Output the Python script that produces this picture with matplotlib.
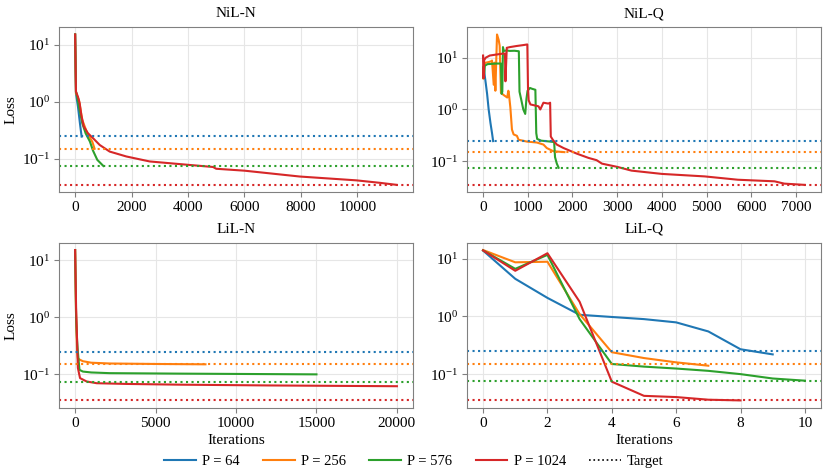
import matplotlib
matplotlib.use("Agg")
import matplotlib.pyplot as plt
from matplotlib.lines import Line2D

plt.rcParams['font.family'] = ['Liberation Serif', 'DejaVu Serif']
plt.rcParams['mathtext.fontset'] = 'stix'
plt.rcParams['font.size'] = 10.5

labels = ["P = 64", "P = 256", "P = 576", "P = 1024"]
colors = ["#1f77b4", "#ff7f0e", "#2ca02c", "#d62728"]
targets = [0.25, 0.15, 0.075, 0.035]

# NiL-N
nil_n_x = [
    [0, 30, 100, 170, 230],
    [0, 30, 60, 135, 253, 430, 607, 690],
    [0, 30, 50, 135, 253, 371, 525, 631, 785, 1000],
    [0, 30, 100, 162, 220, 303, 456, 634, 870, 1224, 1814, 2640, 3944,
     4885, 5000, 6006, 7960, 9966, 10800, 11400],
]
nil_n_y = [
    [15, 1.4, 0.82, 0.42, 0.245],
    [15, 1.4, 1.3, 1.07, 0.48, 0.28, 0.2, 0.15],
    [15, 1.5, 1.4, 0.82, 0.42, 0.28, 0.2, 0.14, 0.096, 0.075],
    [15, 1.5, 1.22, 0.93, 0.58, 0.37, 0.28, 0.23, 0.175, 0.134, 0.11, 0.09,
     0.079, 0.072, 0.067, 0.062, 0.049, 0.042, 0.038, 0.035],
]

# NiL-Q
nil_q_x = [
    [0, 15, 30, 60, 90, 125, 165, 200, 225],
    [0, 20, 60, 120, 180, 200, 238, 255, 275, 312, 349, 371, 400, 430, 460,
     500, 540, 565, 575, 590, 610, 646, 683, 757, 794, 980, 1203, 1351,
     1425, 1574, 1820],
    [0, 15, 40, 100, 200, 300, 400, 415, 430, 445, 460, 480, 520, 600, 700,
     800, 815, 850, 900, 943, 970, 995, 1050, 1100, 1170, 1190, 1210, 1300,
     1400, 1500, 1590, 1610, 1650, 1690],
    [0, 10, 25, 60, 150, 300, 450, 490, 500, 530, 600, 750, 900, 990, 1005,
     1020, 1060, 1150, 1240, 1280, 1350, 1460, 1500, 1515, 1560, 1650, 1800,
     2100, 2360, 2540, 2660, 3000, 3320, 4000, 4960, 5700, 6520, 6740, 7200],
]
nil_q_y = [
    [10.5, 8, 5, 3.2, 2.0, 1.0, 0.55, 0.35, 0.245],
    [4, 7.5, 8.0, 8.2, 8.5, 8.8, 3.0, 8.0, 2.3, 28, 22, 17, 2.1, 2.0, 1.9,
     1.8, 1.7, 2.3, 2.1, 1.6, 1.1, 0.41, 0.33, 0.31, 0.26, 0.24, 0.23, 0.21,
     0.18, 0.156, 0.15],
    [6.5, 4.0, 7.0, 7.5, 7.6, 7.7, 7.7, 2.0, 2.2, 16, 14, 13.5, 13.8, 13.5,
     13.6, 13.3, 2.2, 1.6, 1.0, 0.82, 1.6, 2.3, 2.6, 2.5, 2.4, 0.35, 0.27,
     0.25, 0.245, 0.24, 0.235, 0.12, 0.09, 0.075],
    [11, 4, 9, 10, 11, 11.5, 12, 12, 3.5, 15.5, 16, 16.8, 17.5, 18, 2.6, 1.5,
     1.25, 1.2, 1.15, 1.0, 1.35, 1.3, 1.35, 0.3, 0.26, 0.21, 0.18, 0.14,
     0.116, 0.105, 0.09, 0.078, 0.066, 0.057, 0.051, 0.044, 0.041, 0.037,
     0.035],
]

# LiL-N (no P = 64 run)
lil_n_x = [
    [],
    [0, 60, 120, 170, 300, 480, 1000, 2140, 5000, 8100],
    [0, 60, 120, 170, 270, 480, 1000, 2140, 6500, 15000],
    [0, 60, 120, 170, 305, 720, 1340, 3200, 6530, 12000, 20000],
]
lil_n_y = [
    [],
    [15, 1.0, 0.25, 0.19, 0.18, 0.17, 0.16, 0.155, 0.152, 0.15],
    [15, 1.0, 0.4, 0.25, 0.12, 0.112, 0.108, 0.105, 0.103, 0.1],
    [15, 1.5, 0.4, 0.13, 0.086, 0.075, 0.07, 0.068, 0.066, 0.064, 0.062],
]

# LiL-Q
lil_q_y = [
    [13.9, 4.5, 2.1, 1.07, 0.98, 0.9, 0.79, 0.55, 0.27, 0.22],
    [14.2, 8.7, 8.9, 1.1, 0.24, 0.19, 0.16, 0.14],
    [14, 6.7, 11.7, 0.9, 0.15, 0.135, 0.125, 0.114, 0.1, 0.084, 0.077],
    [14, 6.2, 12.5, 1.8, 0.074, 0.042, 0.04, 0.036, 0.035],
]
lil_q_x = [list(range(len(v))) for v in lil_q_y]

panels = [
    ("NiL-N", nil_n_x, nil_n_y, range(0, 10001, 2000)),
    ("NiL-Q", nil_q_x, nil_q_y, range(0, 7001, 1000)),
    ("LiL-N", lil_n_x, lil_n_y, range(0, 20001, 5000)),
    ("LiL-Q", lil_q_x, lil_q_y, range(0, 11, 2)),
]

fig, axes = plt.subplots(2, 2, figsize=(8.28, 4.76), dpi=100)
fig.subplots_adjust(left=0.0713, right=0.9915, top=0.9433, bottom=0.143,
                    wspace=0.1525, hspace=0.303)

for ax, (title, xs, ys, xt) in zip(axes.flat, panels):
    for x, y, c in zip(xs, ys, colors):
        if len(x):
            ax.plot(x, y, color=c, lw=1.5)
    for t, c in zip(targets, colors):
        ax.axhline(t, color=c, ls=':', lw=1.5)
    ax.set_yscale('log')
    ax.set_xticks(list(xt))
    ax.set_title(title, fontsize=11, pad=7)
    ax.grid(True, color='0.9', lw=0.8)
    ax.set_axisbelow(True)
    for s in ax.spines.values():
        s.set_color('0.5')
    ax.tick_params(which='both', color='0.5', labelsize=11, pad=3)
    ax.tick_params(which='minor', length=0)

axes[0, 0].set_ylabel("Loss", fontsize=11, labelpad=3)
axes[1, 0].set_ylabel("Loss", fontsize=11, labelpad=3)
axes[1, 0].set_xlabel("Iterations", fontsize=11, labelpad=3)
axes[1, 1].set_xlabel("Iterations", fontsize=11, labelpad=3)

handles = [Line2D([], [], color=c, lw=1.5) for c in colors]
handles.append(Line2D([], [], color='black', ls=':', lw=1.2))
fig.legend(handles, labels + ["Target"], loc='lower center', ncol=5,
           frameon=False, bbox_to_anchor=(0.5, -0.01), columnspacing=1.6,
           handlelength=2.15, handletextpad=0.45, fontsize=10.5)

plt.savefig("out.png", dpi=100)
